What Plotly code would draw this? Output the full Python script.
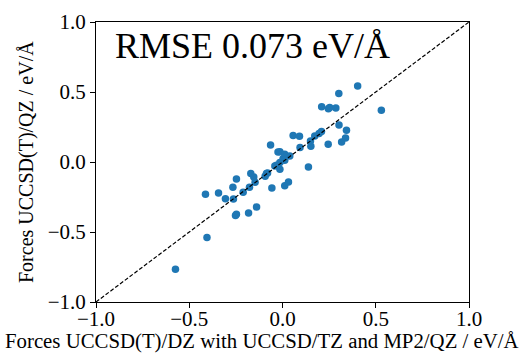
import plotly.graph_objects as go

x_vals = [-0.574, -0.405, -0.413, -0.343, -0.306, -0.263, -0.266, -0.247, -0.211, -0.177,
          -0.170, -0.154, -0.147, -0.247, -0.252, -0.182, -0.139, -0.093, -0.057, 0.012,
          0.032, 0.139, -0.080, -0.041, -0.014, -0.014, 0.003, 0.039, 0.012, -0.014,
          0.094, -0.064, 0.057, 0.091, 0.150, 0.152, 0.173, 0.196, 0.209, 0.245,
          0.317, 0.338, 0.343, 0.303, 0.210, 0.246, 0.253, 0.286, 0.530, 0.302,
          0.403, 0.012, -0.032, -0.086, -0.024]
y_vals = [-0.766, -0.540, -0.231, -0.221, -0.262, -0.264, -0.181, -0.121, -0.216, -0.181,
          -0.083, -0.107, -0.145, -0.374, -0.383, -0.364, -0.321, -0.102, -0.186, -0.169,
          -0.143, -0.036, -0.079, -0.029, -0.052, -0.004, 0.024, 0.043, 0.055, 0.074,
          0.103, 0.121, 0.189, 0.184, 0.150, 0.112, 0.186, 0.203, 0.218, 0.126,
          0.142, 0.171, 0.226, 0.265, 0.395, 0.380, 0.390, 0.385, 0.369, 0.489,
          0.543, 0.012, -0.024, -0.083, 0.071]

diag = [-1.0, 1.0]
tick_vals = [-1.0, -0.5, 0.0, 0.5, 1.0]
tick_text = ["\u22121.0", "\u22120.5", "0.0", "0.5", "1.0"]
rmse_text = "RMSE 0.073 eV/\u00c5"
x_title = "Forces UCCSD(T)/DZ with UCCSD/TZ and MP2/QZ / eV/\u00c5"
y_title = "Forces UCCSD(T)/QZ / eV/\u00c5"

FONT = "Liberation Serif"

fig = go.Figure()
fig.add_trace(go.Scatter(x=x_vals, y=y_vals, mode="markers",
                         marker=dict(color="#1f77b4", size=7.5, line=dict(width=0)),
                         showlegend=False))
fig.add_trace(go.Scatter(x=diag, y=diag, mode="lines",
                         line=dict(color="black", width=1.2, dash="4px,2px"),
                         showlegend=False))

axis_common = dict(range=[-1, 1], tickvals=tick_vals, ticktext=tick_text,
                   showgrid=False, zeroline=False, showline=True, mirror=True,
                   linecolor="black", linewidth=1, ticks="outside", ticklen=5,
                   tickcolor="black", automargin=False,
                   tickfont=dict(family=FONT, size=21, color="black"))

fig.update_xaxes(**axis_common, ticklabelstandoff=-7)
fig.update_yaxes(**axis_common, ticklabelstandoff=0)

fig.add_annotation(x=0.5, y=0, xref="paper", yref="paper", text=x_title,
                   showarrow=False, xanchor="center", yanchor="middle", yshift=-39,
                   xshift=-21,
                   font=dict(family=FONT, size=20.8, color="black"))
fig.add_annotation(x=0, y=0.5, xref="paper", yref="paper", text=y_title,
                   showarrow=False, xanchor="center", yanchor="middle", xshift=-70,
                   textangle=-90, font=dict(family=FONT, size=20, color="black"))

fig.add_annotation(x=-0.91, y=0.826, xref="x", yref="y", text=rmse_text,
                   showarrow=False, xanchor="left", yanchor="middle",
                   font=dict(family=FONT, size=36, color="black"))

fig.update_layout(width=522, height=356,
                  margin=dict(l=96, r=53, t=22, b=54),
                  paper_bgcolor="white", plot_bgcolor="white")

fig.write_html("out.html")
